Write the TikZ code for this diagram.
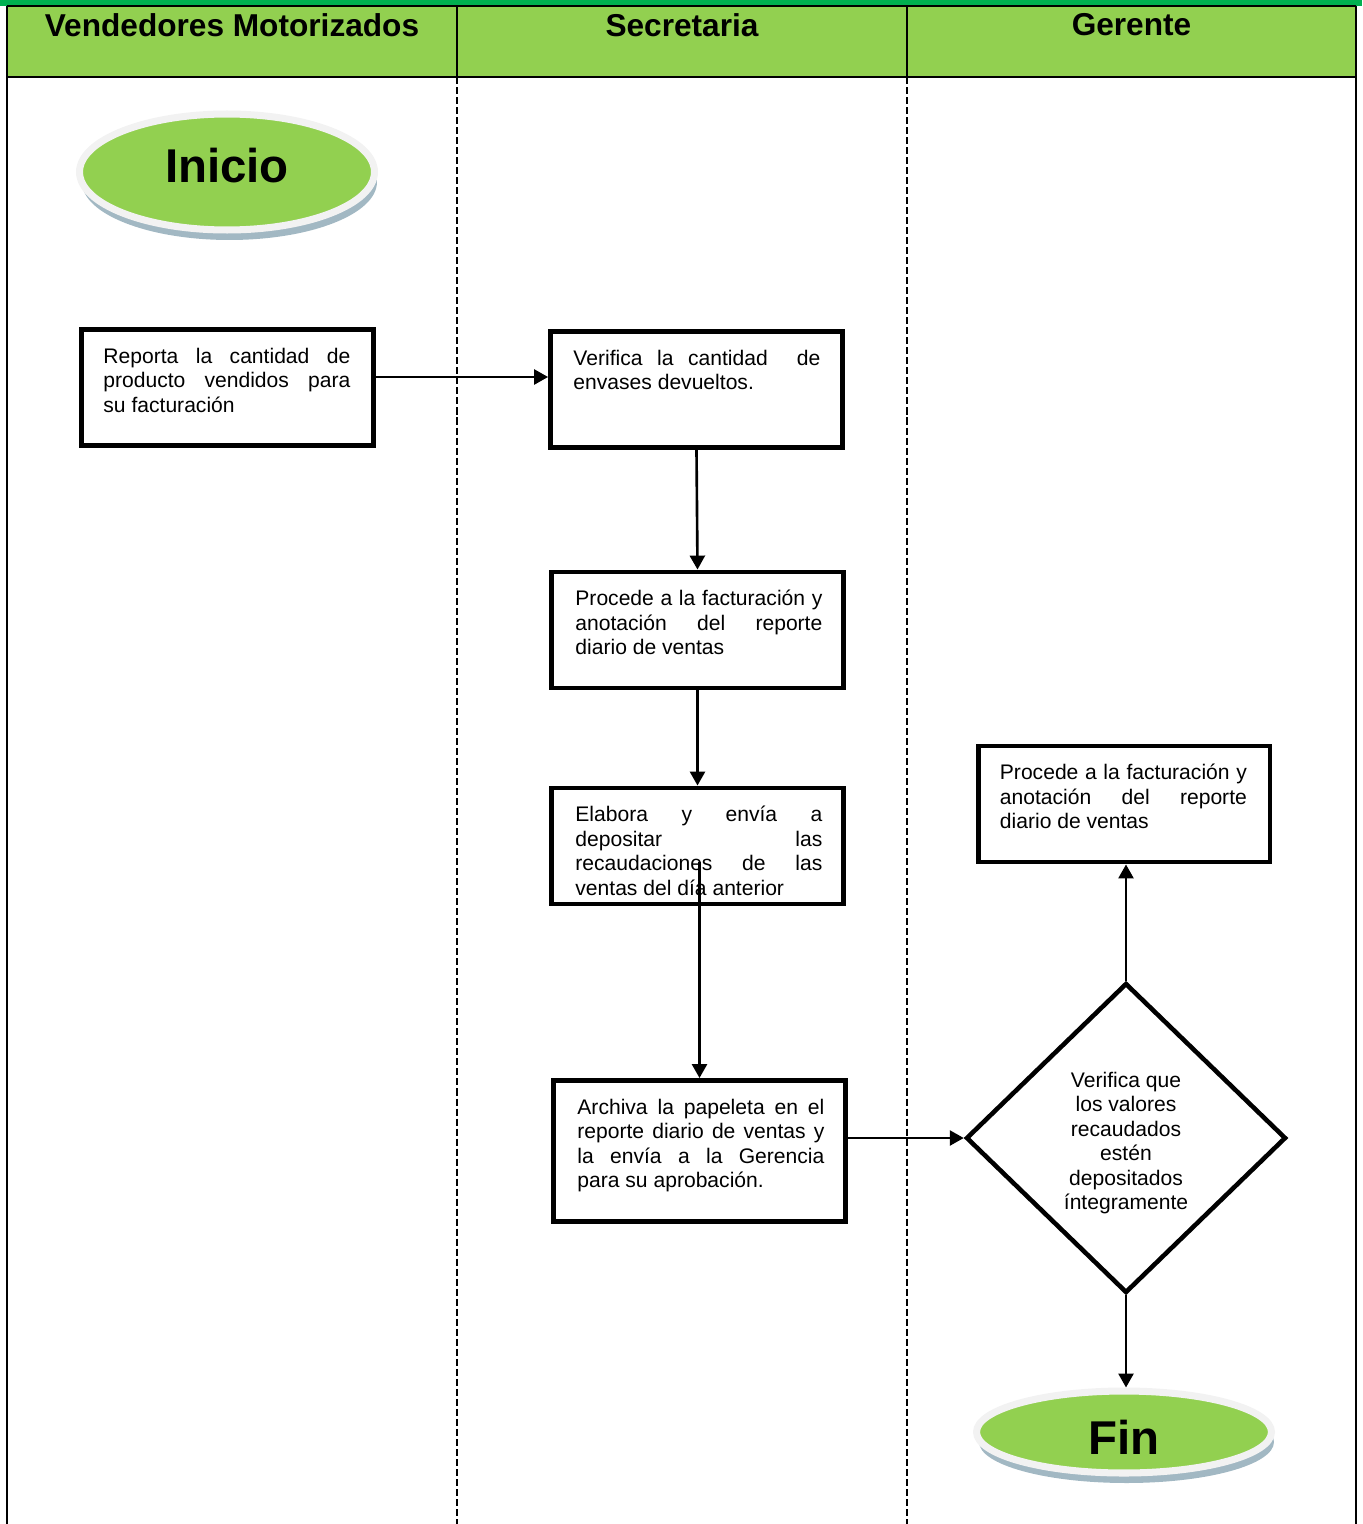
\documentclass[tikz,border=0pt]{standalone}
\usepackage{fontspec}
\setmainfont{Liberation Sans}
\usetikzlibrary{arrows.meta, positioning, calc, shapes.geometric, shadows}
\definecolor{topgreen}{HTML}{00B050}
\definecolor{lanegreen}{HTML}{92D050}
\definecolor{ringgray}{HTML}{F2F2F2}
\definecolor{shadowblue}{HTML}{A2B8C3}

\begin{document}
\begin{tikzpicture}[
    x=0.02cm, y=-0.02cm,
    lane/.style={line width=1.1pt},
    lanedash/.style={line width=1.1pt, dash pattern=on 4pt off 1.7pt},
    head/.style={font=\fontsize{18}{21}\selectfont\bfseries},
    terminal/.style={ellipse, fill=lanegreen, draw=ringgray, line width=4pt, minimum width=5.9cm, inner sep=0pt, font=\fontsize{27}{30}\selectfont\bfseries, drop shadow={shadow xshift=0.05cm, shadow yshift=-0.2cm, fill=shadowblue, opacity=1}},
    proc/.style={draw, line width=2.8pt, minimum width=5.84cm, minimum height=2.32cm, inner sep=0pt},
    txt/.style={font=\fontsize{12}{13.9}\selectfont, text width=4.94cm, align=justify, inner sep=0pt},
    decision/.style={diamond, draw, line width=2.6pt, minimum width=6.4cm, minimum height=6.2cm, inner sep=0pt},
    dtxt/.style={align=center, inner sep=0pt, font=\fontsize{12}{13.9}\selectfont},
    flow/.style={-{Triangle[length=0.28cm, width=0.3cm]}, line width=1.5pt},
]
\useasboundingbox (0,0) rectangle (1362,1524);

% Lanes
\fill[topgreen] (0,0) rectangle (1362,6);
\fill[lanegreen] (7,6) rectangle (1356,77);
\draw[lane] (7,6) -- (1356,6);
\draw[lane] (7,77) -- (1356,77);
\draw[lane] (7,6) -- (7,1524);
\draw[lane] (1356,6) -- (1356,1524);
\draw[lane] (457,6) -- (457,77);
\draw[lane] (907,6) -- (907,77);
\draw[lanedash] (457,77) -- (457,1524);
\draw[lanedash] (907,77) -- (907,1524);

\node[head] (vmhead) at (232,25) {Vendedores Motorizados};
\node[head] (sechead) at (682,25) {Secretaria};
\node[head] (gerhead) at (1131.5,25) {Gerente};

% Start / end
\node[terminal, minimum height=2.32cm, text depth=0.28cm] (inicio) at (227,172) {Inicio};
\node[terminal, minimum height=1.64cm, text height=26pt] (fin) at (1124,1432) {Fin};

% Process boxes
\node[proc] (reporta) at (227.5,387.5) {};
\node[txt, below right=0.41cm and 0.48cm of reporta.north west] (reportatxt) {Reporta la cantidad de\linebreak producto vendidos para\linebreak su facturación};

\node[proc] (verifica) at (696.5,389.5) {};
\node[txt, below right=0.41cm and 0.5cm of verifica.north west] (verificatxt) {Verifica la cantidad\ \ de\linebreak envases devueltos.};

\node[proc] (procsec) at (697.5,630) {};
\node[txt, below right=0.41cm and 0.52cm of procsec.north west] (procsectxt) {Procede a la facturación y\linebreak anotación del reporte\linebreak diario de ventas};

\node[proc] (elabora) at (697.5,846) {};
\node[txt, below right=0.41cm and 0.52cm of elabora.north west] (elaboratxt) {Elabora y envía a\linebreak depositar las\linebreak recaudaciones de las\linebreak ventas del día anterior};

\node[proc, minimum height=2.82cm] (archiva) at (699.5,1151) {};
\node[txt, below right=0.41cm and 0.52cm of archiva.north west] (archivatxt) {Archiva la papeleta en el\linebreak reporte diario de ventas y\linebreak la envía a la Gerencia\linebreak para su aprobación.};

\node[proc] (procger) at (1124,804) {};
\node[txt, below right=0.41cm and 0.48cm of procger.north west] (procgertxt) {Procede a la facturación y\linebreak anotación del reporte\linebreak diario de ventas};

% Decision
\node[decision] (control) at (1126,1138) {};
\node[dtxt] (controltxt) at ([yshift=-0.1cm]control.center) {Verifica que\\los valores\\recaudados\\estén\\depositados\\íntegramente};

% Connectors
\coordinate (repout) at ($(reporta.east)+(0,-10.5)$);
\draw[flow] (repout) -- (repout -| verifica.west);
\draw[flow] (verifica.south) -- (procsec.north);
\draw[flow] (procsec.south) -- (elabora.north);
\coordinate (elabout) at ($(archiva.north |- elabora.center)+(0,16)$);
\draw[flow] (elabout) -- (archiva.north);
\draw[flow] (archiva.east |- control.west) -- (control.west);
\draw[flow] (control.north) -- (control.north |- procger.south);
\draw[flow] (control.south) -- (control.south |- fin.north);

\end{tikzpicture}
\end{document}
